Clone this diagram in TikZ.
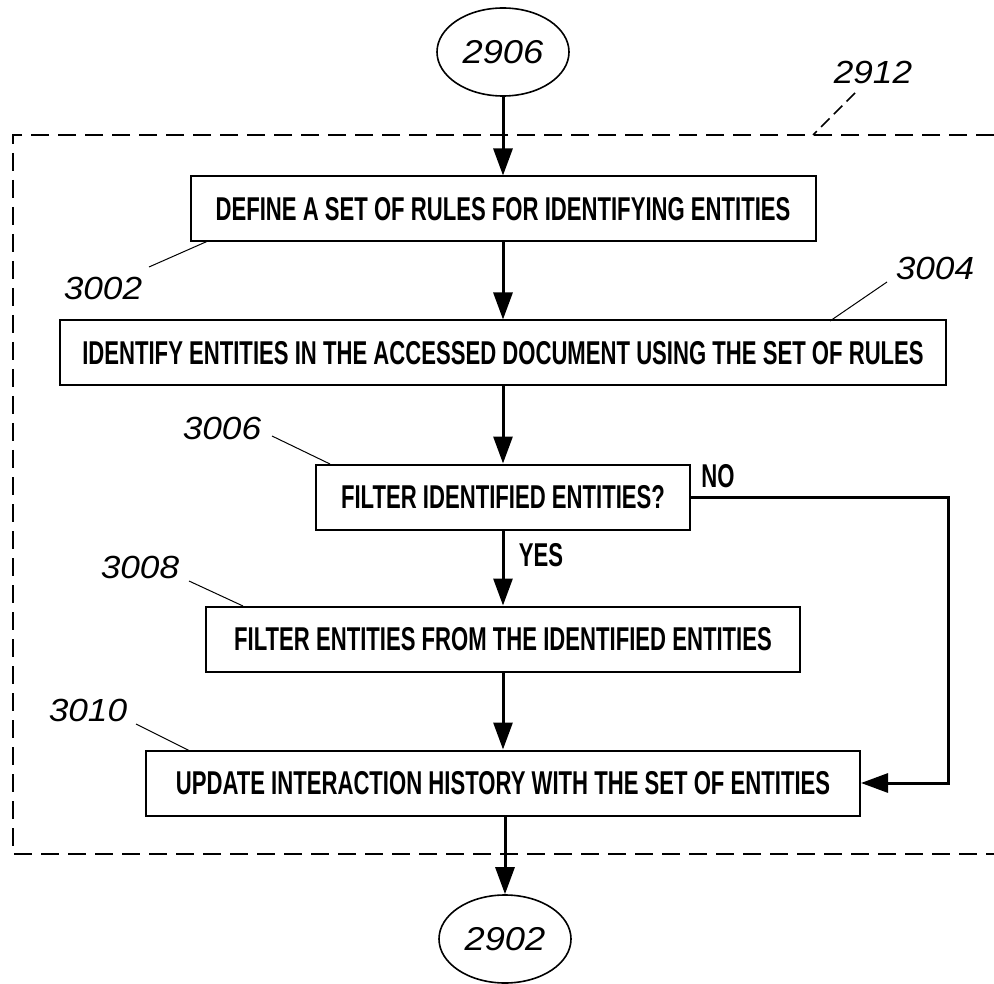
\documentclass[tikz,border=0pt]{standalone}
\usepackage{fontspec}
\usetikzlibrary{arrows.meta,shapes.geometric}
\newfontfamily\boxfont[FakeStretch=0.67]{Liberation Sans}
\newfontfamily\numfont[FakeStretch=1.1]{Liberation Sans}
\begin{document}
\begin{tikzpicture}[x=1pt,y=-1pt,
  stepbox/.style={draw,line width=2pt,minimum height=65pt,inner sep=0pt,
    font=\boxfont\bfseries\fontsize{33}{35}\selectfont},
  term/.style={draw,ellipse,line width=1.6pt,minimum width=132pt,minimum height=88pt,
    inner sep=0pt,font=\numfont\itshape\fontsize{33}{35}\selectfont},
  flow/.style={line width=3pt,-{Triangle[length=27pt,width=19pt]}},
  lead/.style={line width=1pt},
  reflab/.style={font=\numfont\itshape\fontsize{32}{34}\selectfont,inner sep=0pt},
  branch/.style={font=\boxfont\bfseries\fontsize{33}{35}\selectfont,inner sep=0pt}]
\useasboundingbox (0,0) rectangle (994,984);
% dashed frame
\draw[line width=2.8pt,dash pattern=on 18pt off 9pt] (994,135) -- (13,135) -- (13,854) -- (994,854);
% terminals
\node[term] (t1) at (503,52) {2906};
\node[term] (t2) at (505,939) {2902};
% boxes
\node[stepbox,minimum width=625pt] (b1) at (503,209) {DEFINE A SET OF RULES FOR IDENTIFYING ENTITIES};
\node[stepbox,minimum width=886pt] (b2) at (503,353) {IDENTIFY ENTITIES IN THE ACCESSED DOCUMENT USING THE SET OF RULES};
\node[stepbox,minimum width=374pt] (b3) at (503,497) {FILTER IDENTIFIED ENTITIES?};
\node[stepbox,minimum width=594pt] (b4) at (503,639) {FILTER ENTITIES FROM THE IDENTIFIED ENTITIES};
\node[stepbox,minimum width=714pt] (b5) at (503,783) {UPDATE INTERACTION HISTORY WITH THE SET OF ENTITIES};
% flow
\draw[flow] (t1) -- (b1);
\draw[flow] (b1) -- (b2);
\draw[flow] (b2) -- (b3);
\draw[flow] (b3) -- (b4);
\draw[flow] (b4) -- (b5);
\draw[flow] (b5.south -| t2) -- (t2);
\coordinate (ncorner) at (948,497);
\draw[flow] (b3.east) -- (ncorner) |- (b5.east);
\node[branch] (no) at (718,476) {NO};
\node[branch] (yes) at (541,555) {YES};
% reference labels
\node[reflab] (l2912) at (873,72) {2912};
\coordinate (e2912) at (813,135);
\draw[line width=1.5pt,dash pattern=on 12pt off 6pt] (855,93) -- (e2912);
\node[reflab] (l3002) at (103,288) {3002};
\draw[lead] (149,267) -- (208,241);
\node[reflab] (l3004) at (935,268) {3004};
\draw[lead] (887,282) -- (830,321);
\node[reflab] (l3006) at (222,428) {3006};
\draw[lead] (272,436) -- (330,464);
\node[reflab] (l3008) at (140,567) {3008};
\draw[lead] (189,581) -- (243,606);
\node[reflab] (l3010) at (88,710) {3010};
\draw[lead] (136,724) -- (190,751);
\end{tikzpicture}
\end{document}
